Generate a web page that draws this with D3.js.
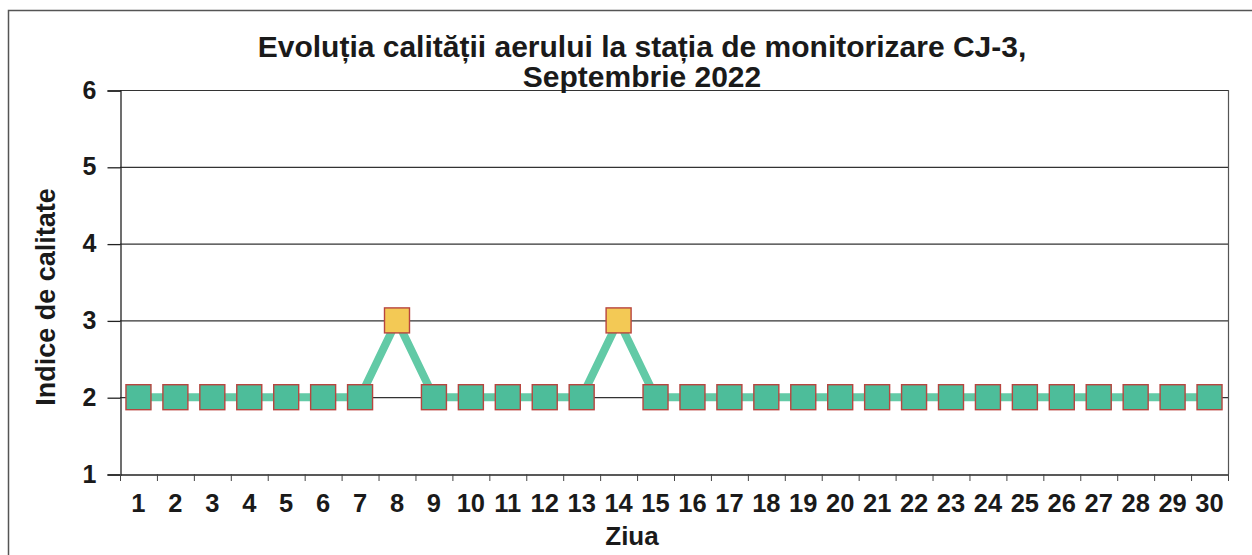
<!DOCTYPE html>
<html>
<head>
<meta charset="utf-8">
<script src="https://cdn.jsdelivr.net/npm/d3@7/dist/d3.min.js"></script>
<style>
  body { margin: 0; background: #fff; }
  svg text { font-family: "Liberation Sans", Arial, sans-serif; font-weight: bold; fill: #1a1a1a; }
</style>
</head>
<body>
<div id="chart"></div>
<script>
// values
const days = d3.range(1, 31);
const indice = [2,2,2,2,2,2,2,3,2,2,2,2,2,3,2,2,2,2,2,2,2,2,2,2,2,2,2,2,2,2];
const yTicks = [1, 2, 3, 4, 5, 6];
const titleLines = ["Evoluția calității aerului la stația de monitorizare CJ-3,", "Septembrie 2022"];

const width = 1252, height = 555;
let margin = {top: 90, left: 120, right: 24, bottom: 81};

let svg = d3.select('#chart').append('svg').attr('width', width).attr('height', height);

// outer frame (runs off the right and bottom of the picture)
svg.append('rect').attr('x', 8.5).attr('y', 10.5).attr('width', 1300).attr('height', 600)
  .attr('fill', '#fff').attr('stroke', '#555').attr('stroke-width', 1.5);

var x = d3.scaleBand().domain(days).range([margin.left, width - margin.right]).padding(0);
var y = d3.scaleLinear().domain([1, 6]).range([height - margin.bottom, margin.top]);
let cx = d => x(d) + x.bandwidth() / 2;

// grid lines at 2..6 and right border
svg.append('g').selectAll('line').data(yTicks.slice(1)).enter().append('line')
  .attr('x1', margin.left).attr('x2', width - margin.right)
  .attr('y1', d => y(d) + 0.5).attr('y2', d => y(d) + 0.5)
  .attr('stroke', '#333').attr('stroke-width', 1.2);
svg.append('line').attr('x1', width - margin.right + 0.5).attr('x2', width - margin.right + 0.5)
  .attr('y1', y(6)).attr('y2', y(1)).attr('stroke', '#555').attr('stroke-width', 1.2);

// y axis
var yAxis = d3.axisLeft(y).tickValues(yTicks).tickSize(13).tickPadding(11).tickFormat(d3.format('d'));
let gy = svg.append('g').attr('transform', 'translate(' + (margin.left + 0.5) + ',0.5)').call(yAxis);
gy.selectAll('text').attr('font-size', 25).attr('dy', '0.3em');
gy.selectAll('line, path').attr('stroke', '#222').attr('stroke-width', 1.3);

// x axis: labels centered in bands, ticks at band edges
var xAxis = d3.axisBottom(x).tickSize(0).tickPadding(19);
let gx = svg.append('g').attr('transform', 'translate(0,' + (y(1) + 0.5) + ')').call(xAxis);
gx.select('.domain').attr('stroke', '#222').attr('stroke-width', 1.5);
gx.selectAll('text').attr('font-size', 25.5).attr('dy', '0.71em');
svg.append('g').selectAll('line').data(days.concat([null])).enter().append('line')
  .attr('x1', d => (d === null ? width - margin.right : x(d)) + 0.5)
  .attr('x2', d => (d === null ? width - margin.right : x(d)) + 0.5)
  .attr('y1', y(1)).attr('y2', y(1) + 7)
  .attr('stroke', '#444').attr('stroke-width', 1);

// series line
var line = d3.line().x((d, i) => cx(days[i])).y(d => y(d));
svg.append('path').datum(indice).attr('d', line)
  .attr('fill', 'none').attr('stroke', '#62caa6').attr('stroke-width', 8).attr('stroke-linejoin', 'round');

// square markers
let s = 25;
svg.append('g').selectAll('rect').data(indice).enter().append('rect')
  .attr('x', (d, i) => cx(days[i]) - s / 2).attr('y', d => y(d) - s / 2)
  .attr('width', s).attr('height', s)
  .attr('fill', d => d >= 3 ? '#f3c955' : '#4dbd9a')
  .attr('stroke', '#b8453f').attr('stroke-width', 1.4);

// titles
svg.append('g').selectAll('text').data(titleLines).enter().append('text')
  .attr('x', 642).attr('y', (d, i) => 57 + i * 30)
  .attr('text-anchor', 'middle').attr('font-size', 30).text(d => d);

svg.append('text').attr('x', 632).attr('y', 545).attr('text-anchor', 'middle').attr('font-size', 26).text('Ziua');
svg.append('text').attr('transform', 'translate(55,' + 297 + ') rotate(-90)')
  .attr('text-anchor', 'middle').attr('font-size', 27).text('Indice de calitate');
</script>
</body>
</html>
